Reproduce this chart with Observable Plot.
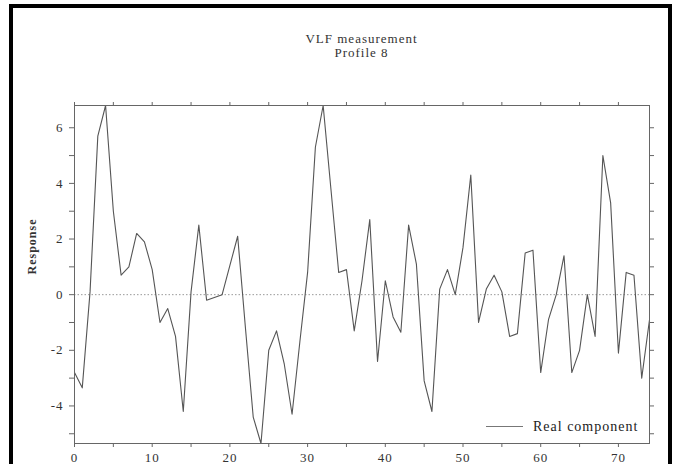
<!DOCTYPE html>
<html>
<head>
<meta charset="utf-8">
<script src="https://cdn.jsdelivr.net/npm/d3@7"></script>
<script src="https://cdn.jsdelivr.net/npm/@observablehq/plot@0.6"></script>
<style>
  html, body { margin: 0; padding: 0; background: #fff; }
  body { width: 673px; height: 464px; overflow: hidden; position: relative; }
  #chart { position: absolute; left: 0; top: 0; width: 673px; }
  .title {
    height: 90px; box-sizing: border-box; padding-top: 32px;
    margin-left: 74px; width: 575px; text-align: center;
    font-family: "Liberation Serif", serif; font-size: 13px; line-height: 14px;
    letter-spacing: 1px; color: #333;
  }
  #legend {
    position: absolute; left: 486px; top: 419px;
    font-family: "Liberation Serif", serif; font-size: 14px; letter-spacing: 1px;
    color: #222; white-space: nowrap;
  }
  #legend .swatch {
    display: inline-block; width: 37px; height: 0; border-top: 1.6px solid #777;
    vertical-align: middle; margin-right: 10px; position: relative; top: -1px;
  }
  #border {
    position: absolute; left: 9px; top: 4px; width: 655px; height: 480px;
    border: 4px solid #000; pointer-events: none;
  }
</style>
</head>
<body>
<div id="chart">
  <div class="title">VLF measurement<br>Profile 8</div>
</div>
<div id="legend"><span class="swatch"></span>Real component</div>
<div id="border"></div>
<script>
// VLF real-component response along profile 8, one reading per station
const response = [
  -2.8, -3.35, 0.1, 5.7, 6.8, 3.0, 0.7, 1.0, 2.2, 1.9,
  0.9, -1.0, -0.5, -1.5, -4.2, 0.1, 2.5, -0.2, -0.1, 0.0,
  1.05, 2.1, -1.2, -4.4, -5.35, -2.0, -1.3, -2.5, -4.3, -1.7,
  0.8, 5.3, 6.8, 3.8, 0.8, 0.9, -1.3, 0.5, 2.7, -2.4,
  0.5, -0.8, -1.35, 2.5, 1.1, -3.1, -4.2, 0.2, 0.9, 0.0,
  1.7, 4.3, -1.0, 0.2, 0.7, 0.1, -1.5, -1.4, 1.5, 1.6,
  -2.8, -0.9, 0.0, 1.4, -2.8, -2.0, 0.0, -1.5, 5.0, 3.3,
  -2.1, 0.8, 0.7, -3.0, -0.9
];
const xTicks = [0, 5, 10, 15, 20, 25, 30, 35, 40, 45, 50, 55, 60, 65, 70];
const yTicks = [-5, -4, -3, -2, -1, 0, 1, 2, 3, 4, 5, 6];
const xDomain = [0, 74];
const yDomain = [-5.35, 6.8];

const data = response.map((v, i) => ({station: i, response: v}));

const axisColor = "#666";

const chart = Plot.plot({
  width: 673,
  height: 390,
  marginLeft: 74,
  marginRight: 24,
  marginTop: 15,
  marginBottom: 37,
  x: {domain: xDomain},
  y: {domain: yDomain},
  style: {
    fontFamily: "Liberation Serif, serif",
    fontSize: "13px",
    color: "#333",
    background: "transparent",
    overflow: "visible"
  },
  marks: [
    Plot.ruleY([0], {stroke: "#999", strokeDasharray: "1.5,2", strokeWidth: 1}),
    Plot.line(data, {x: "station", y: "response", stroke: "#555", strokeWidth: 1.1}),
    Plot.frame({stroke: axisColor, strokeWidth: 1}),
    Plot.axisX({
      anchor: "bottom", ticks: xTicks, tickSize: 4, tickPadding: 5,
      stroke: axisColor, label: null,
      tickFormat: d => (d % 10 === 0 ? String(d) : "")
    }),
    Plot.axisX({
      anchor: "top", ticks: xTicks, tickSize: 4, stroke: axisColor,
      label: null, tickFormat: () => ""
    }),
    Plot.axisY({
      anchor: "left", ticks: yTicks, tickSize: 5, tickPadding: 6,
      stroke: axisColor, label: null,
      tickFormat: d => (d % 2 === 0 ? String(d) : "")
    }),
    Plot.axisY({
      anchor: "right", ticks: yTicks, tickSize: 4, stroke: axisColor,
      label: null, tickFormat: () => ""
    }),
    Plot.text(["Response"], {
      frameAnchor: "left", dx: -42, rotate: -90,
      text: d => d, fontWeight: "bold", fontSize: 12, fill: "#333"
    })
  ]
});

chart.style.letterSpacing = "1px";
document.getElementById("chart").appendChild(chart);
</script>
</body>
</html>
